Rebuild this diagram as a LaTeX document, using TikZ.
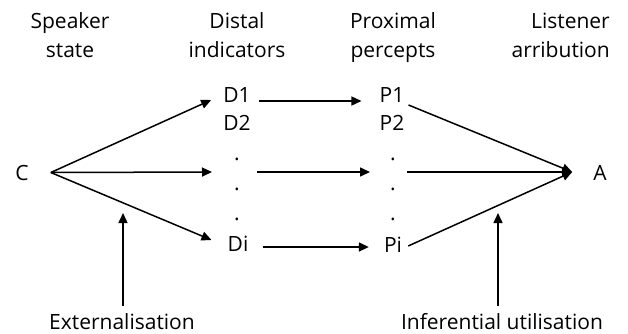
\documentclass[tikz,border=0pt]{standalone}
\usepackage{fontspec}
\setmainfont{Open Sans}
\usetikzlibrary{arrows.meta}
\begin{document}
\begin{tikzpicture}[x=1pt,y=-1pt,
  lbl/.style={font=\fontsize{21}{29}\selectfont, inner sep=0pt, anchor=base},
  hdr/.style={lbl, align=center},
  arr/.style={line width=1.5pt, -{Triangle[length=10pt,width=9pt]}},
  ln/.style={line width=1.5pt}]
\useasboundingbox (0,0) rectangle (628,333);
% headers (base anchor = baseline of the last line)
\node[hdr] (hS) at (70,57) {Speaker\\state};
\node[hdr] (hD) at (237,57) {Distal\\indicators};
\node[hdr] (hP) at (393,57) {Proximal\\percepts};
\node[hdr, align=right, anchor=base east] (hL) at (610,57) {Listener\\arribution};
% main nodes
\node[lbl] (C) at (22,180) {C};
\node[lbl] (A) at (600,180) {A};
\node[lbl] (D1) at (237,102) {D1};
\node[lbl] (D2) at (237,130) {D2};
\node[lbl] (dA) at (237,160) {.};
\node[lbl] (dB) at (237,190) {.};
\node[lbl] (dC) at (237,220) {.};
\node[lbl] (Di) at (238,251) {Di};
\node[lbl] (P1) at (392,102) {P1};
\node[lbl] (P2) at (392,130) {P2};
\node[lbl] (pA) at (393,160) {.};
\node[lbl] (pB) at (393,190) {.};
\node[lbl] (pC) at (393,220) {.};
\node[lbl] (Pi) at (393,252) {Pi};
\node[lbl] (Ext) at (122,329) {Externalisation};
\node[lbl] (Inf) at (502,329) {Inferential utilisation};
% helper coordinates
\coordinate (Cout) at ([xshift=22pt,yshift=7.5pt]C.base east);
\coordinate (Ain) at ([xshift=-21pt,yshift=8pt]A.base west);
\coordinate (Dmid) at (237,172);
\coordinate (Pmid) at (393,172);
\coordinate (ExtTip) at (123,213);
\coordinate (InfTip) at (498,213);
% arrows from C
\draw[arr] (Cout) -- ([xshift=-12pt,yshift=2pt]D1.base west);
\draw[arr] (Cout) -- ([xshift=-25pt]Dmid);
\draw[arr] (Cout) -- ([xshift=-16pt,yshift=11pt]Di.base west);
% D to P
\draw[arr] ([xshift=8pt,yshift=1pt]D1.base east) -- ([xshift=-18pt,yshift=1pt]P1.base west);
\draw[arr] ([xshift=20pt]Dmid) -- ([xshift=-23pt]Pmid);
\draw[arr] ([xshift=14pt,yshift=4pt]Di.base east) -- ([xshift=-15pt,yshift=5pt]Pi.base west);
% P to A
\draw[arr] ([xshift=4pt,yshift=-3pt]P1.base east) -- (Ain);
\draw[arr] ([xshift=14pt]Pmid) -- (Ain);
\draw[arr] ([xshift=6pt,yshift=6pt]Pi.base east) -- (Ain);
% annotation arrows
\draw[arr] (Ext.north -| ExtTip) ++(0,-7) -- (ExtTip);
\draw[arr] (Inf.north -| InfTip) ++(0,-7) -- (InfTip);
\end{tikzpicture}
\end{document}
